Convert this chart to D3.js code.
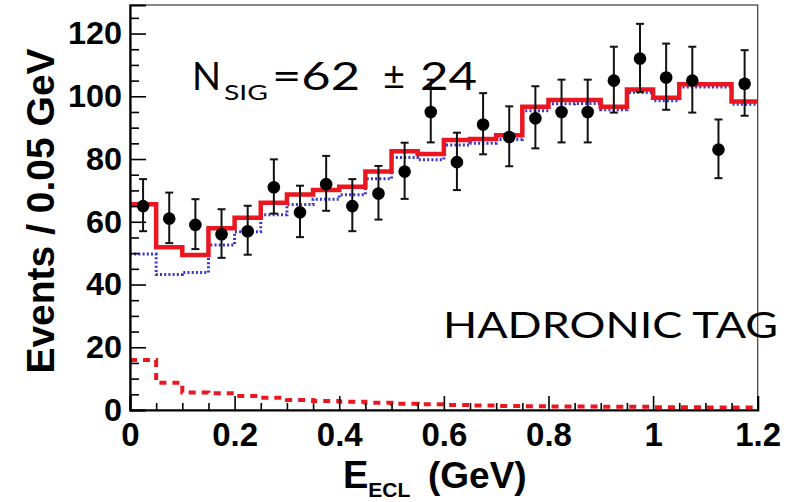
<!DOCTYPE html>
<html>
<head>
<meta charset="utf-8">
<script src="https://cdn.jsdelivr.net/npm/d3@7"></script>
<style>
  body { margin: 0; background: #fff; }
  svg { display: block; }
  .axis text { font-family: "Liberation Sans", Arial, sans-serif; font-weight: bold; fill: #000; }
</style>
</head>
<body>
<div id="chart"></div>
<script>
// bin centres (GeV), bins are 0.05 GeV wide
const energy = [0.025, 0.075, 0.125, 0.175, 0.225, 0.275, 0.325, 0.375, 0.425, 0.475, 0.525, 0.575,
  0.625, 0.675, 0.725, 0.775, 0.825, 0.875, 0.925, 0.975, 1.025, 1.075, 1.125, 1.175];
const binWidth = 0.05;

// data points
const counts = [65, 61, 59, 56, 57, 71, 63, 72, 65, 69, 76, 95, 79, 91, 87, 93, 95, 95, 105, 112, 106, 105, 83, 104];
const errHigh = [8.6, 8.3, 8.2, 8.0, 8.1, 8.9, 8.5, 9.0, 8.6, 8.8, 9.2, 10.3, 9.4, 10.0, 9.8, 10.2, 10.3, 10.3, 10.8, 11.1, 10.8, 10.8, 9.6, 10.7];
const errLow = [8.0, 7.8, 7.7, 7.5, 7.5, 8.4, 7.9, 8.5, 8.0, 8.3, 8.7, 9.7, 8.9, 9.5, 9.3, 9.6, 9.7, 9.7, 10.2, 10.6, 10.3, 10.2, 9.1, 10.2];

// fit components
const totalFit = [65.6, 51.9, 49.4, 57.9, 61.3, 66.1, 68.7, 70.1, 71.2, 76.0, 82.5, 81.6,
  86.1, 86.4, 87.6, 96.7, 98.8, 98.8, 96.7, 102.2, 99.5, 103.8, 103.8, 98.3];
const background = [49.7, 43.2, 43.8, 52.6, 56.8, 62.2, 65.5, 67.2, 68.6, 73.7, 80.5, 79.8,
  84.5, 85.0, 86.2, 95.4, 97.6, 97.7, 95.7, 101.2, 98.6, 103.0, 103.0, 97.5];
const signal = [15.9, 8.7, 5.6, 5.3, 4.5, 3.9, 3.2, 2.9, 2.6, 2.3, 2.0, 1.8,
  1.6, 1.4, 1.3, 1.2, 1.1, 1.1, 1.0, 1.0, 0.9, 0.9, 0.8, 0.8];

const xTicks = [0, 0.2, 0.4, 0.6, 0.8, 1, 1.2];
const yTicks = [0, 20, 40, 60, 80, 100, 120];

const width = 787;
const height = 502;
const margins = { top: 5, bottom: 92, left: 130, right: 29.3 };
const red = "#ea1620";
const blue = "#3535d2";

const x = d3.scaleLinear().domain([0, 1.2]).range([margins.left, width - margins.right]);
const y = d3.scaleLinear().domain([0, 129.1]).range([height - margins.bottom, margins.top]);

const svg = d3.select("#chart").append("svg")
  .attr("width", width)
  .attr("height", height);

// FRAME (top/right thin)
svg.append("rect")
  .attr("x", x(0)).attr("y", y(129.1))
  .attr("width", x(1.2) - x(0)).attr("height", y(0) - y(129.1))
  .attr("fill", "none").attr("stroke", "#3a3a3a").attr("stroke-width", 1.2);

// HISTOGRAM STEPS
function steps(values) {
  const pts = energy.map((e, i) => [e - binWidth / 2, values[i]]);
  pts.push([energy[energy.length - 1] + binWidth / 2, values[values.length - 1]]);
  return pts;
}
const stepLine = d3.line()
  .x((d) => x(d[0]))
  .y((d) => y(d[1]))
  .curve(d3.curveStepAfter);

svg.append("path")
  .attr("d", stepLine(steps(background)))
  .attr("fill", "none")
  .attr("stroke", blue)
  .attr("stroke-width", 3)
  .attr("stroke-dasharray", "2,2.2");

svg.append("path")
  .attr("d", stepLine(steps(totalFit)))
  .attr("fill", "none")
  .attr("stroke", red)
  .attr("stroke-width", 4.5);

svg.append("path")
  .attr("d", stepLine(steps(signal)))
  .attr("fill", "none")
  .attr("stroke", red)
  .attr("stroke-width", 4)
  .attr("stroke-dasharray", "7,6");

// AXES
const yAxis = svg.append("g")
  .attr("class", "axis")
  .attr("transform", `translate(${x(0)},0)`)
  .call(d3.axisLeft(y).tickValues(yTicks).tickSize(-16).tickPadding(8).tickFormat((d) => String(d)));
yAxis.selectAll("text")
  .style("font-size", "32px")
  .attr("textLength", (d) => String(d).length * 18)
  .attr("lengthAdjust", "spacingAndGlyphs");

svg.append("g")
  .attr("class", "axis")
  .attr("transform", `translate(${x(0)},0)`)
  .call(d3.axisLeft(y).tickValues(y.ticks(26).filter((d) => d % 20 !== 0)).tickSize(-9).tickFormat(""))
  .call((g) => g.select(".domain").remove());

const xAxis = svg.append("g")
  .attr("class", "axis")
  .attr("transform", `translate(0,${y(0)})`)
  .call(d3.axisBottom(x).tickValues(xTicks).tickSize(-14).tickPadding(13).tickFormat((d) => String(d)));
xAxis.selectAll("text").style("font-size", "33px");

svg.append("g")
  .attr("class", "axis")
  .attr("transform", `translate(0,${y(0)})`)
  .call(d3.axisBottom(x).tickValues(x.ticks(24).filter((d) => Math.abs(d / 0.2 - Math.round(d / 0.2)) > 0.01)).tickSize(-7).tickFormat(""))
  .call((g) => g.select(".domain").remove());

svg.selectAll(".axis .domain").attr("stroke", "#000").attr("stroke-width", 2.2);
svg.selectAll(".axis line").attr("stroke", "#000").attr("stroke-width", 1.6);

// DATA POINTS
const pts = svg.append("g").attr("class", "points");
pts.selectAll("line.err")
  .data(energy)
  .enter()
  .append("line")
  .attr("class", "err")
  .attr("x1", (d) => x(d)).attr("x2", (d) => x(d))
  .attr("y1", (d, i) => y(counts[i] - errLow[i]))
  .attr("y2", (d, i) => y(counts[i] + errHigh[i]))
  .attr("stroke", "#111").attr("stroke-width", 2);
pts.selectAll("line.capTop")
  .data(energy)
  .enter()
  .append("line")
  .attr("x1", (d) => x(d) - 4).attr("x2", (d) => x(d) + 4)
  .attr("y1", (d, i) => y(counts[i] + errHigh[i]))
  .attr("y2", (d, i) => y(counts[i] + errHigh[i]))
  .attr("stroke", "#111").attr("stroke-width", 2);
pts.selectAll("line.capBot")
  .data(energy)
  .enter()
  .append("line")
  .attr("x1", (d) => x(d) - 4).attr("x2", (d) => x(d) + 4)
  .attr("y1", (d, i) => y(counts[i] - errLow[i]))
  .attr("y2", (d, i) => y(counts[i] - errLow[i]))
  .attr("stroke", "#111").attr("stroke-width", 2);
pts.selectAll("circle")
  .data(energy)
  .enter()
  .append("circle")
  .attr("cx", (d) => x(d))
  .attr("cy", (d, i) => y(counts[i]))
  .attr("r", 6.3)
  .attr("fill", "#000");

// AXIS TITLES
svg.append("text")
  .attr("transform", "translate(54,211) rotate(-90)")
  .attr("text-anchor", "middle")
  .style("font-family", "'Liberation Sans', Arial, sans-serif")
  .style("font-weight", "bold")
  .style("font-size", "39px")
  .text("Events / 0.05 GeV");

const xTitle = svg.append("text")
  .style("font-family", "'Liberation Sans', Arial, sans-serif")
  .style("font-weight", "bold")
  .attr("y", 488);
xTitle.append("tspan").attr("x", 343).style("font-size", "38px").text("E");
xTitle.append("tspan").attr("dy", 9).style("font-size", "21px").text("ECL");
xTitle.append("tspan").attr("x", 428).attr("dy", -9).style("font-size", "37px").text("(GeV)");

// ANNOTATIONS
const note = svg.append("text")
  .style("font-family", "Lato, 'DejaVu Sans', sans-serif")
  .style("font-weight", 400)
  .attr("fill", "#000")
  .attr("y", 90);
note.append("tspan").attr("x", 192).style("font-size", "38px").text("N");
note.append("tspan").attr("x", 224).attr("dy", 10).style("font-size", "21px")
  .attr("textLength", 44).attr("lengthAdjust", "spacingAndGlyphs").text("SIG");
note.append("tspan").attr("x", 272).attr("dy", -10).style("font-size", "38px")
  .attr("textLength", 88).attr("lengthAdjust", "spacingAndGlyphs").text("=62");
note.append("tspan").attr("x", 383).style("font-size", "38px").text("±");
note.append("tspan").attr("x", 420).style("font-size", "38px")
  .attr("textLength", 57).attr("lengthAdjust", "spacingAndGlyphs").text("24");

svg.append("text")
  .attr("x", 443)
  .attr("y", 338)
  .style("font-family", "Lato, 'DejaVu Sans', sans-serif")
  .style("font-weight", 400)
  .style("font-size", "37px")
  .attr("fill", "#000")
  .attr("textLength", 335)
  .attr("lengthAdjust", "spacingAndGlyphs")
  .text("HADRONIC TAG");
</script>
</body>
</html>
